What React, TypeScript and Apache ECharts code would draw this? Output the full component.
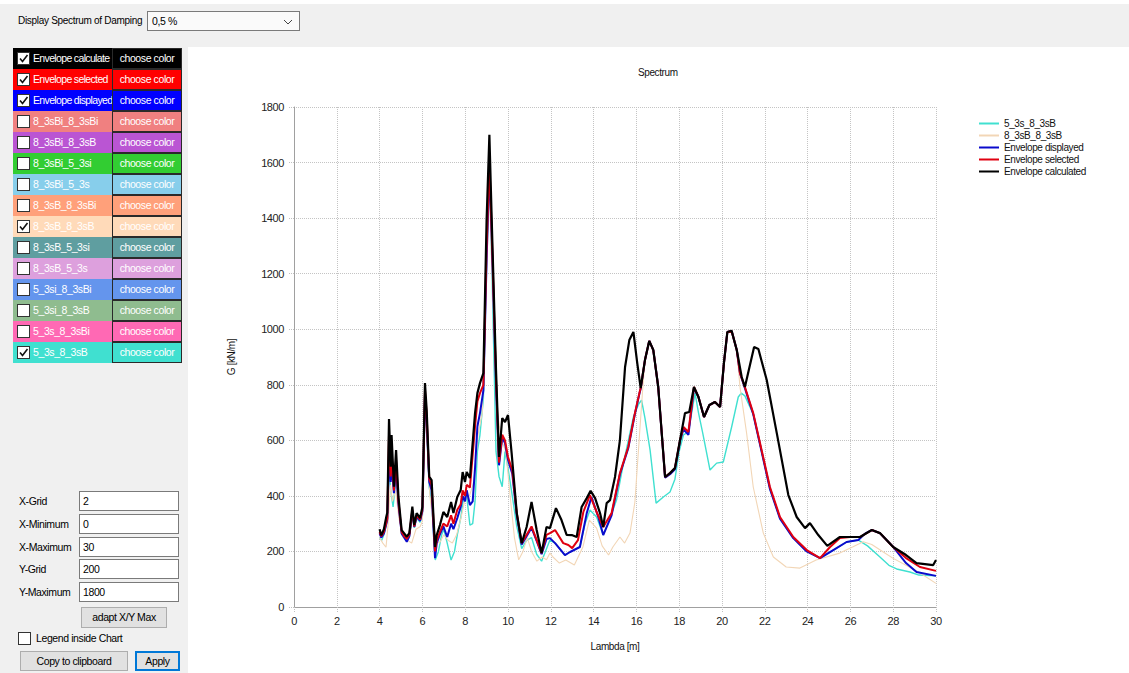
import React, { useEffect, useRef } from "react";
import * as echarts from "echarts";

// ---------- data (lambda [m], G [kN/m]) ----------
const envelopeCalculated: [number, number][] = [
  [4.0, 280], [4.08, 258], [4.2, 280], [4.3, 320], [4.36, 340], [4.44, 677], [4.52, 505], [4.56, 619], [4.67, 433], [4.77, 565], [4.88, 397],
  [5.03, 277], [5.15, 265], [5.27, 253], [5.39, 266], [5.53, 361], [5.62, 295], [5.73, 338], [5.89, 320], [6.0, 360], [6.12, 806], [6.2, 709],
  [6.32, 469], [6.43, 457], [6.59, 216], [6.67, 259], [6.82, 295], [6.98, 342], [7.16, 324], [7.34, 378], [7.45, 338], [7.63, 396], [7.79, 421],
  [7.88, 486], [7.99, 450], [8.07, 486], [8.22, 464], [8.46, 698], [8.57, 770], [8.69, 806], [8.85, 842], [9.0, 1393], [9.13, 1700], [9.24, 1393],
  [9.44, 853], [9.58, 540], [9.73, 680], [9.86, 666], [10.0, 691], [10.17, 554], [10.41, 338], [10.64, 230], [10.87, 288], [11.1, 378], [11.34, 277],
  [11.57, 194], [11.8, 288], [11.96, 284], [12.24, 356], [12.5, 313], [12.74, 260], [12.98, 259], [13.21, 252], [13.44, 360], [13.68, 392],
  [13.86, 418], [14.07, 392], [14.3, 338], [14.45, 288], [14.61, 374], [14.77, 385], [15.0, 468], [15.23, 601], [15.47, 864], [15.67, 961],
  [15.86, 990], [16.04, 878], [16.2, 788], [16.4, 889], [16.6, 958], [16.79, 925], [17.02, 792], [17.34, 468], [17.57, 482], [17.8, 500],
  [18.04, 601], [18.27, 698], [18.47, 702], [18.69, 792], [18.9, 756], [19.16, 684], [19.41, 727], [19.67, 738], [19.91, 720], [20.09, 878],
  [20.25, 990], [20.45, 994], [20.69, 925], [20.92, 828], [21.07, 792], [21.5, 936], [21.7, 929], [22.09, 817], [22.56, 626], [23.1, 403],
  [23.49, 324], [23.88, 284], [24.11, 302], [24.5, 259], [24.92, 220], [25.51, 252], [25.98, 252], [26.45, 252], [27.0, 277], [27.38, 266],
  [28.0, 216], [28.6, 187], [29.09, 158], [29.87, 151], [30.0, 169],
];

const envelopeSelected: [number, number][] = [
  [4.0, 270], [4.08, 255], [4.2, 270], [4.3, 300], [4.36, 320], [4.44, 620], [4.52, 470], [4.56, 560], [4.67, 420], [4.77, 530], [4.88, 380],
  [5.03, 270], [5.15, 255], [5.27, 245], [5.39, 260], [5.53, 350], [5.62, 290], [5.73, 330], [5.89, 315], [6.0, 350], [6.12, 780], [6.2, 690],
  [6.32, 460], [6.43, 440], [6.59, 200], [6.67, 240], [6.82, 270], [6.98, 300], [7.16, 290], [7.34, 330], [7.45, 300], [7.63, 350], [7.79, 370],
  [7.88, 420], [7.99, 400], [8.07, 440], [8.22, 430], [8.46, 650], [8.57, 740], [8.69, 770], [8.85, 800], [9.0, 1300], [9.13, 1600], [9.24, 1350],
  [9.44, 820], [9.58, 520], [9.73, 620], [9.86, 600], [10.0, 540], [10.2, 493], [10.41, 338], [10.64, 230], [10.87, 260], [11.1, 290], [11.34, 241],
  [11.57, 194], [11.8, 260], [11.96, 266], [12.2, 277], [12.58, 230], [12.82, 223], [13.0, 212], [13.27, 241], [13.52, 342], [13.83, 403],
  [14.14, 342], [14.45, 288], [14.84, 338], [15.23, 482], [15.62, 576], [15.93, 698], [16.14, 770], [16.2, 788], [16.4, 889], [16.6, 958],
  [16.79, 925], [17.02, 792], [17.34, 468], [17.57, 482], [17.8, 500], [18.04, 601], [18.2, 648], [18.43, 630], [18.69, 792], [18.9, 756],
  [19.16, 684], [19.41, 727], [19.67, 738], [19.91, 720], [20.09, 878], [20.25, 990], [20.45, 994], [20.69, 925], [20.84, 842], [21.07, 792],
  [21.46, 698], [21.85, 565], [22.24, 432], [22.71, 324], [23.33, 252], [23.96, 205], [24.58, 176], [25.05, 216], [25.51, 248], [25.98, 252],
  [26.45, 252], [27.0, 277], [27.38, 266], [28.0, 216], [28.6, 176], [29.25, 144], [30.0, 130],
];

const envelopeDisplayed: [number, number][] = [
  [4.0, 265], [4.08, 250], [4.2, 265], [4.3, 295], [4.36, 315], [4.44, 540], [4.52, 450], [4.56, 520], [4.67, 410], [4.77, 510], [4.88, 370],
  [5.03, 265], [5.15, 250], [5.27, 235], [5.39, 255], [5.53, 345], [5.62, 288], [5.73, 325], [5.89, 310], [6.0, 345], [6.12, 760], [6.2, 670],
  [6.32, 450], [6.43, 420], [6.59, 176], [6.67, 230], [6.82, 262], [6.98, 290], [7.16, 252], [7.34, 300], [7.45, 280], [7.63, 320], [7.79, 360],
  [7.88, 400], [7.99, 380], [8.07, 420], [8.22, 367], [8.35, 380], [8.46, 500], [8.57, 650], [8.69, 698], [8.85, 780], [9.0, 1250], [9.13, 1580],
  [9.24, 1330], [9.44, 800], [9.58, 510], [9.73, 610], [9.86, 590], [10.0, 530], [10.2, 480], [10.41, 330], [10.64, 225], [10.87, 255],
  [11.1, 285], [11.34, 238], [11.57, 190], [11.8, 245], [11.96, 248], [12.2, 230], [12.66, 187], [12.9, 198], [13.36, 216], [13.68, 338],
  [13.9, 396], [14.22, 324], [14.45, 259], [14.84, 330], [15.23, 478], [15.62, 572], [15.93, 695], [16.14, 768], [16.2, 786], [16.4, 889],
  [16.6, 958], [16.79, 925], [17.02, 792], [17.34, 466], [17.57, 478], [17.8, 496], [18.04, 598], [18.2, 640], [18.43, 620], [18.69, 790],
  [18.9, 756], [19.16, 684], [19.41, 727], [19.67, 738], [19.91, 720], [20.09, 878], [20.25, 990], [20.45, 994], [20.69, 925], [20.84, 842],
  [21.07, 788], [21.46, 694], [21.85, 560], [22.24, 425], [22.71, 318], [23.33, 248], [23.96, 200], [24.58, 176], [25.2, 205], [25.82, 234],
  [26.37, 241], [26.7, 265], [27.0, 277], [27.38, 266], [28.0, 216], [28.6, 158], [29.09, 126], [30.0, 112],
];

const spectrum5_3s_8_3sB: [number, number][] = [
  [4.0, 250], [4.1, 240], [4.2, 260], [4.3, 290], [4.36, 310], [4.44, 500], [4.52, 420], [4.63, 360], [4.77, 470], [4.88, 370], [5.03, 262],
  [5.27, 238], [5.39, 252], [5.53, 330], [5.62, 285], [5.73, 320], [5.89, 305], [6.0, 330], [6.12, 740], [6.2, 650], [6.32, 430], [6.43, 380],
  [6.6, 169], [6.75, 200], [6.9, 260], [7.0, 280], [7.16, 230], [7.34, 169], [7.5, 200], [7.63, 260], [7.79, 320], [7.9, 380], [8.07, 400],
  [8.22, 295], [8.35, 300], [8.46, 380], [8.57, 560], [8.69, 620], [8.85, 750], [9.0, 1250], [9.13, 1550], [9.24, 1250], [9.44, 560], [9.58, 470],
  [9.73, 433], [9.86, 560], [10.0, 500], [10.2, 400], [10.41, 290], [10.64, 210], [10.87, 240], [11.1, 250], [11.34, 190], [11.57, 165],
  [11.8, 210], [11.96, 241], [12.2, 230], [12.66, 187], [12.9, 198], [13.36, 216], [13.6, 300], [13.83, 349], [14.14, 324], [14.45, 259],
  [14.77, 320], [15.07, 385], [15.4, 520], [15.86, 684], [16.1, 730], [16.24, 745], [16.4, 680], [16.64, 565], [16.92, 374], [17.26, 396],
  [17.57, 414], [17.8, 460], [18.0, 560], [18.2, 620], [18.43, 630], [18.74, 770], [18.9, 700], [19.1, 626], [19.44, 493], [19.75, 518],
  [20.06, 522], [20.45, 648], [20.76, 756], [20.9, 770], [21.07, 760], [21.46, 694], [21.85, 560], [22.24, 425], [22.71, 318], [23.33, 248],
  [23.96, 200], [24.58, 176], [25.2, 205], [25.82, 234], [26.37, 241], [26.8, 220], [27.38, 180], [27.8, 150], [28.16, 137], [28.78, 126],
  [29.2, 115], [30.0, 112],
];

const spectrum8_3sB_8_3sB: [number, number][] = [
  [4.0, 250], [4.15, 230], [4.3, 215], [4.4, 300], [4.5, 440], [4.6, 380], [4.75, 420], [4.9, 320], [5.1, 250], [5.3, 240], [5.5, 230],
  [5.7, 280], [5.9, 290], [6.0, 310], [6.12, 700], [6.2, 620], [6.35, 400], [6.5, 300], [6.65, 240], [6.8, 230], [7.0, 260], [7.2, 240],
  [7.4, 230], [7.6, 260], [7.8, 320], [8.0, 390], [8.2, 400], [8.4, 450], [8.6, 620], [8.8, 700], [9.0, 1200], [9.13, 1500], [9.3, 1100],
  [9.5, 700], [9.7, 600], [9.9, 560], [10.1, 400], [10.3, 250], [10.5, 170], [10.7, 200], [10.9, 250], [11.1, 200], [11.35, 165], [11.6, 180],
  [11.8, 170], [11.96, 194], [12.1, 180], [12.4, 158], [12.7, 169], [13.1, 151], [13.5, 216], [13.8, 313], [14.14, 284], [14.4, 220],
  [14.7, 187], [14.9, 216], [15.23, 252], [15.45, 230], [15.7, 266], [15.93, 378], [16.17, 648], [16.3, 790], [16.4, 889], [16.6, 958],
  [16.79, 925], [17.02, 792], [17.34, 468], [17.57, 482], [17.8, 500], [18.04, 601], [18.2, 640], [18.43, 620], [18.69, 790], [18.9, 756],
  [19.16, 684], [19.41, 727], [19.67, 738], [19.91, 720], [20.09, 878], [20.25, 990], [20.45, 994], [20.69, 925], [20.84, 792], [21.15, 626],
  [21.46, 432], [21.93, 266], [22.4, 180], [23.0, 144], [23.64, 140], [24.4, 169], [25.5, 194], [26.1, 216], [26.6, 235], [27.0, 225],
  [27.5, 200], [28.0, 175], [28.6, 150], [29.2, 125], [30.0, 85],
];

// ---------- panel (UI) ----------
const panelNames = [
  "Envelope calculate", "Envelope selected", "Envelope displayed", "8_3sBi_8_3sBi", "8_3sBi_8_3sB", "8_3sBi_5_3si", "8_3sBi_5_3s",
  "8_3sB_8_3sBi", "8_3sB_8_3sB", "8_3sB_5_3si", "8_3sB_5_3s", "5_3si_8_3sBi", "5_3si_8_3sB", "5_3s_8_3sBi", "5_3s_8_3sB",
];
const panelColors = [
  "#000000", "#FF0000", "#0000FF", "#F08080", "#BA55D3", "#32CD32", "#87CEEB",
  "#FFA07A", "#FFDAB9", "#5F9EA0", "#DDA0DD", "#6495ED", "#8FBC8F", "#FF69B4", "#40E0D0",
];
const panelChecked = [true, true, true, false, false, false, false, false, true, false, false, false, false, false, true];

const fieldLabels = ["X-Grid", "X-Minimum", "X-Maximum", "Y-Grid", "Y-Maximum"];
const fieldValues = ["2", "0", "30", "200", "1800"];
const fieldCenters = [501, 524, 547, 569, 592];

const FONT = '"Liberation Sans", Arial, sans-serif';

const CheckBox = ({ checked, left, top }: { checked: boolean; left: number; top: number }) => (
  <div
    style={{
      position: "absolute", left, top, width: 13, height: 13, boxSizing: "border-box",
      background: "#fff", border: "1px solid #333",
    }}
  >
    {checked && (
      <svg width="11" height="11" style={{ position: "absolute", left: 0, top: 0 }}>
        <polyline points="2,5.5 4.5,8.5 9.5,2" fill="none" stroke="#111" strokeWidth="1.6" />
      </svg>
    )}
  </div>
);

const Button = ({ text, left, top, width, height, blue }: any) => (
  <div
    style={{
      position: "absolute", left, top, width, height, boxSizing: "border-box",
      background: "#e1e1e1", border: blue ? "1px solid #0078d7" : "1px solid #adadad",
      boxShadow: blue ? "inset 0 0 0 1px #0078d7" : "none",
      textAlign: "center", lineHeight: height - 2 + "px",
    }}
  >
    {text}
  </div>
);

const App = () => {
  const ref = useRef<HTMLDivElement>(null);

  useEffect(() => {
    const chart = echarts.init(ref.current!, null, { renderer: "svg" });
    const lineSeries = (name: string, data: [number, number][], color: string, width: number) => ({
      name, type: "line", data, showSymbol: false, symbol: "none",
      lineStyle: { color, width }, itemStyle: { color }, emphasis: { disabled: true },
    });
    chart.setOption({
      animation: false,
      textStyle: { fontFamily: FONT },
      graphic: [
        {
          type: "text", left: 450, top: 20,
          style: { text: "Spectrum", fontSize: 10, fill: "#111", fontFamily: FONT },
        },
      ],
      legend: {
        orient: "vertical", left: 786, top: 66, itemWidth: 20, itemHeight: 2, itemGap: 1, icon: "rect",
        selectedMode: false,
        textStyle: { fontSize: 10, color: "#111", lineHeight: 11, fontFamily: FONT },
        data: ["5_3s_8_3sB", "8_3sB_8_3sB", "Envelope displayed", "Envelope selected", "Envelope calculated"],
      },
      grid: { left: 106, top: 60, width: 642, height: 500, containLabel: false },
      xAxis: {
        type: "value", min: 0, max: 30, interval: 2,
        name: "Lambda [m]", nameLocation: "middle", nameGap: 34,
        nameTextStyle: { fontSize: 10, color: "#111" },
        axisLine: { show: true, lineStyle: { color: "#a0a0a0", width: 1 } },
        axisTick: { show: true, length: 5, lineStyle: { color: "#c0c0c0", type: "dotted" } },
        axisLabel: { fontSize: 11, color: "#222", margin: 8, formatter: (v: number) => String(v) },
        splitLine: { show: true, lineStyle: { color: "#c4c4c4", type: "dotted" } },
      },
      yAxis: {
        type: "value", min: 0, max: 1800, interval: 200,
        name: "G [kN/m]", nameLocation: "middle", nameGap: 58, nameRotate: 90,
        nameTextStyle: { fontSize: 10, color: "#111" },
        axisLine: { show: true, lineStyle: { color: "#a0a0a0", width: 1 } },
        axisTick: { show: true, length: 6, lineStyle: { color: "#c0c0c0", type: "dotted" } },
        axisLabel: { fontSize: 11, color: "#222", margin: 10, formatter: (v: number) => String(v) },
        splitLine: { show: true, lineStyle: { color: "#c4c4c4", type: "dotted" } },
      },
      series: [
        lineSeries("5_3s_8_3sB", spectrum5_3s_8_3sB, "#40E0D0", 1.4),
        lineSeries("8_3sB_8_3sB", spectrum8_3sB_8_3sB, "#F2D6B6", 1.1),
        lineSeries("Envelope displayed", envelopeDisplayed, "#0a0acc", 2),
        lineSeries("Envelope selected", envelopeSelected, "#e00010", 2),
        lineSeries("Envelope calculated", envelopeCalculated, "#000000", 2.2),
      ],
    });
    return () => chart.dispose();
  }, []);

  return (
    <div
      style={{
        position: "fixed", left: 0, top: 0, width: 1129, height: 673, background: "#fff", overflow: "hidden",
        fontFamily: FONT, fontSize: 10.5, letterSpacing: -0.4, color: "#000",
      }}
    >
      {/* top bar */}
      <div style={{ position: "absolute", left: 0, top: 4, width: 1129, height: 43, background: "#f0f0f0" }} />
      <div style={{ position: "absolute", left: 18, top: 14, lineHeight: "13px", fontSize: 10, letterSpacing: -0.3 }}>
        Display Spectrum of Damping
      </div>
      <div
        style={{
          position: "absolute", left: 147, top: 11, width: 153, height: 20, boxSizing: "border-box",
          background: "#fafafa", border: "1px solid #7a7a7a", lineHeight: "18px", paddingLeft: 4,
        }}
      >
        0,5 %
        <svg width="10" height="6" style={{ position: "absolute", right: 6, top: 7 }}>
          <polyline points="1,1 5,5 9,1" fill="none" stroke="#444" strokeWidth="1" />
        </svg>
      </div>

      {/* left panel */}
      <div style={{ position: "absolute", left: 0, top: 47, width: 188, height: 626, background: "#f0f0f0" }} />
      {panelNames.map((name, i) => {
        const top = 48 + i * 21;
        const c = panelColors[i];
        return (
          <React.Fragment key={name}>
            <div style={{ position: "absolute", left: 13, top, width: 99, height: 21, background: c }}>
              <CheckBox checked={panelChecked[i]} left={4} top={4} />
              <div
                style={{
                  position: "absolute", left: 20, top: 0, lineHeight: "21px", color: "#fff", whiteSpace: "nowrap",
                  letterSpacing: i < 3 ? -0.65 : -0.4,
                }}
              >
                {name}
              </div>
            </div>
            <div
              style={{
                position: "absolute", left: 112, top, width: 70, height: 21, boxSizing: "border-box", background: c,
                border: "1px solid #2a2a2a", color: "#fff", textAlign: "center", lineHeight: "19px", whiteSpace: "nowrap",
              }}
            >
              choose color
            </div>
          </React.Fragment>
        );
      })}

      {fieldLabels.map((lab, i) => (
        <React.Fragment key={lab}>
          <div style={{ position: "absolute", left: 19, top: fieldCenters[i] - 7, lineHeight: "14px" }}>{lab}</div>
          <div
            style={{
              position: "absolute", left: 79, top: fieldCenters[i] - 10, width: 100, height: 20, boxSizing: "border-box",
              background: "#fff", border: "1px solid #7a7a7a", lineHeight: "18px", paddingLeft: 3,
            }}
          >
            {fieldValues[i]}
          </div>
        </React.Fragment>
      ))}
      <Button text="adapt X/Y Max" left={81} top={607} width={86} height={21} />
      <CheckBox checked={false} left={18} top={632} />
      <div style={{ position: "absolute", left: 36, top: 631, lineHeight: "14px" }}>Legend inside Chart</div>
      <Button text="Copy to clipboard" left={20} top={651} width={108} height={20} />
      <Button text="Apply" left={135} top={651} width={45} height={20} blue />

      {/* chart */}
      <div ref={ref} style={{ position: "absolute", left: 188, top: 47, width: 941, height: 626 }} />
    </div>
  );
};

export default App;
